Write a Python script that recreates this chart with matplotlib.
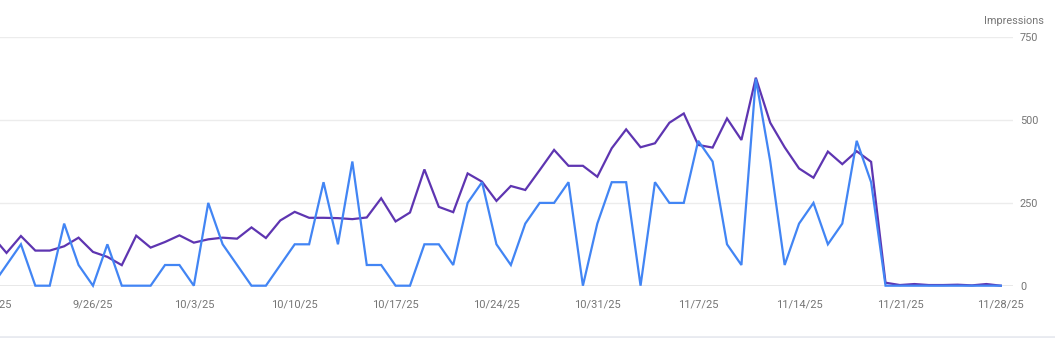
import matplotlib
matplotlib.use("Agg")
import matplotlib.pyplot as plt
import matplotlib.dates as mdates
import numpy as np
import datetime as dt

plt.rcParams['font.family'] = ['Roboto', 'DejaVu Sans']

start_date = dt.date(2025, 9, 19)
n_days = 71
dates = [start_date + dt.timedelta(days=i) for i in range(n_days)]

clicks = [0, 1, 2, 0, 0, 3, 1, 0, 2, 0, 0, 0, 1, 1, 0, 4, 2, 1, 0, 0,
          1, 2, 2, 5, 2, 6, 1, 1, 0, 0, 2, 2, 1, 4, 5, 2, 1, 3, 4, 4,
          5, 0, 3, 5, 5, 0, 5, 4, 4, 7, 6, 2, 1, 10, 6, 1, 3, 4, 2, 3,
          7, 5, 0, 0, 0, 0, 0, 0, 0, 0, 0]

impressions = [150, 99, 150, 106, 106, 119, 145, 102, 87, 62, 151, 115, 132, 152, 130, 140, 145, 142, 176, 144,
               197, 223, 205, 205, 204, 201, 206, 264, 194, 221, 351, 238, 222, 339, 314, 256, 301, 289, 349, 410,
               362, 362, 329, 415, 472, 418, 430, 492, 520, 425, 417, 505, 440, 628, 492, 418, 354, 326, 405, 367,
               406, 374, 9, 2, 5, 2, 2, 3, 1, 5, 0]

tick_dates = [start_date + dt.timedelta(days=7 * k) for k in range(11)]
tick_labels = [f"{d.month}/{d.day}/{d.strftime('%y')}" for d in tick_dates]
imp_ticks = [0, 250, 500, 750]
clk_max = 12

W, H = 1055, 338
fig = plt.figure(figsize=(W / 100, H / 100), dpi=100)

px_day = 14.41
x_d0 = -7.9  # pixel of first date
ax_left_px, ax_right_px = -30, 1013
y0_px, y750_px = 285.7, 37.3

ax = fig.add_axes([ax_left_px / W, (H - y0_px) / H,
                   (ax_right_px - ax_left_px) / W, (y0_px - y750_px) / H])

d0 = mdates.date2num(start_date)
ax.set_xlim(d0 + (ax_left_px - x_d0) / px_day, d0 + (ax_right_px - x_d0) / px_day)
ax.set_ylim(0, 750)

ax.plot(dates, impressions, color='#5e35b1', lw=1.6, clip_on=False, zorder=3,
        solid_joinstyle='miter')

ax.set_xticks([mdates.date2num(d) for d in tick_dates])
ax.set_xticklabels(tick_labels)
ax.tick_params(axis='x', length=0, pad=10, labelsize=8, labelcolor='#757575')
ax.grid(axis='y', color='#ececec', lw=1)
ax.axhline(0, color='#9e9e9e', lw=1, zorder=2)
for s in ax.spines.values():
    s.set_visible(False)

ax2 = ax.twinx()
ax2.set_ylim(0, clk_max)
ax2.plot(dates, clicks, color='#4285f4', lw=1.6, clip_on=False, zorder=3,
         solid_joinstyle='miter')
ax2.set_yticks([])
for s in ax2.spines.values():
    s.set_visible(False)

# impressions axis labels on the right
ax.set_yticks(imp_ticks)
ax.yaxis.tick_right()
ax.yaxis.set_label_position('right')
ax.tick_params(axis='y', which='both', left=False, right=False,
               labelleft=False, labelright=True,
               length=0, pad=5, labelsize=7.8, labelcolor='#757575')

fig.text(1044 / W, (H - 21) / H, "Impressions", ha='right', va='center',
         fontsize=7.8, color='#757575')

fig.add_artist(plt.Line2D([0, 1], [1.5 / H, 1.5 / H], transform=fig.transFigure,
                          color='#e8eaf0', lw=2))

fig.savefig("out.png", dpi=100)
